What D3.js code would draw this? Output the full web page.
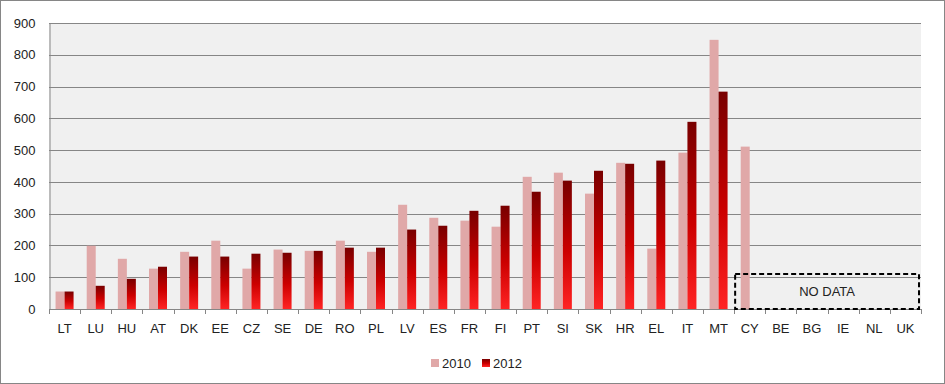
<!DOCTYPE html>
<html>
<head>
<meta charset="utf-8">
<script src="https://d3js.org/d3.v7.min.js"></script>
<style>
  body { margin: 0; background: white; }
  text { font-family: "Liberation Sans", Arial, sans-serif; fill: #222; }
</style>
</head>
<body>
<svg id="chart" width="945" height="384"></svg>
<script>
// data
let countries = ["LT","LU","HU","AT","DK","EE","CZ","SE","DE","RO","PL","LV","ES","FR","FI","PT","SI","SK","HR","EL","IT","MT","CY","BE","BG","IE","NL","UK"];
let values2010 = [55,199,158,127,180,215,127,187,183,215,180,328,287,278,259,416,429,363,460,190,492,847,511,null,null,null,null,null];
let values2012 = [55,73,95,133,165,165,174,177,183,193,193,250,262,309,325,369,404,435,457,467,589,684,null,null,null,null,null,null];
let yTicks = [0,100,200,300,400,500,600,700,800,900];
let noDataCountries = ["CY","BE","BG","IE","NL","UK"];
let seriesNames = ["2010","2012"];

let svg = d3.select("#chart");
let W = 945, H = 384;
let mLeft = 49, mRight = 921, mTop = 23, mBottom = 309;

// outer frame
svg.append("rect").attr("x",0.5).attr("y",0.5).attr("width",W-1).attr("height",H-1)
  .attr("fill","white").attr("stroke","#868686");

// gradient for 2012 bars
let defs = svg.append("defs");
let grad = defs.append("linearGradient").attr("id","darkred")
  .attr("x1",0).attr("y1",0).attr("x2",0).attr("y2",1);
grad.append("stop").attr("offset","0%").attr("stop-color","#780000");
grad.append("stop").attr("offset","55%").attr("stop-color","#cc0000");
grad.append("stop").attr("offset","100%").attr("stop-color","#ff2424");

let x = d3.scaleBand().domain(countries).range([mLeft, mRight]);
let y = d3.scaleLinear().domain([0,900]).range([mBottom, mTop]);

// plot area
svg.append("rect").attr("x",mLeft).attr("y",mTop).attr("width",mRight-mLeft).attr("height",mBottom-mTop)
  .attr("fill","#f0f0f0");

// gridlines
svg.append("g").selectAll("line").data(yTicks.filter(d => d > 0)).enter().append("line")
  .attr("x1",mLeft).attr("x2",mRight)
  .attr("y1",d => Math.round(y(d))+0.5).attr("y2",d => Math.round(y(d))+0.5)
  .attr("stroke","#868686").attr("stroke-width",1);

// y axis
let yAxis = svg.append("g").attr("transform",`translate(${mLeft+0.5},0)`)
  .call(d3.axisLeft(y).tickValues(yTicks).tickSize(0).tickPadding(14));
yAxis.select(".domain").attr("stroke","#868686");
yAxis.selectAll("text").style("font-size","13px").attr("fill","#222");

// bars
let bw = 9;
let g = svg.append("g");
g.selectAll(".b10").data(countries.filter((d,i) => values2010[i] != null)).enter().append("rect")
  .attr("x",d => x(d) + x.bandwidth()/2 - bw)
  .attr("y",d => y(values2010[countries.indexOf(d)]))
  .attr("width",bw)
  .attr("height",d => mBottom - y(values2010[countries.indexOf(d)]))
  .attr("fill","#e0a8a8");
g.selectAll(".b12").data(countries.filter((d,i) => values2012[i] != null)).enter().append("rect")
  .attr("x",d => x(d) + x.bandwidth()/2)
  .attr("y",d => y(values2012[countries.indexOf(d)]))
  .attr("width",bw)
  .attr("height",d => mBottom - y(values2012[countries.indexOf(d)]))
  .attr("fill","url(#darkred)");

// x axis
svg.append("line").attr("x1",mLeft).attr("x2",mRight)
  .attr("y1",mBottom+0.5).attr("y2",mBottom+0.5).attr("stroke","#868686");
let bounds = countries.map(d => x(d)).concat([mRight]);
svg.append("g").selectAll("line").data(bounds).enter().append("line")
  .attr("x1",d => Math.round(d)+0.5).attr("x2",d => Math.round(d)+0.5)
  .attr("y1",mBottom).attr("y2",mBottom+5).attr("stroke","#868686");
svg.append("g").selectAll("text").data(countries).enter().append("text")
  .attr("x",d => x(d) + x.bandwidth()/2).attr("y",333)
  .attr("text-anchor","middle").style("font-size","13px").text(d => d);

// NO DATA box
let nd0 = x(noDataCountries[0]) + 1, nd1 = mRight - 2;
svg.append("rect").attr("x",nd0).attr("y",y(110)).attr("width",nd1-nd0).attr("height",mBottom - y(110))
  .attr("fill","none").attr("stroke","#000").attr("stroke-width",2).attr("stroke-dasharray","5,3");
svg.append("text").attr("x",(nd0+nd1)/2).attr("y",296).attr("text-anchor","middle")
  .style("font-size","13px").text("NO DATA");

// legend
let legend = svg.append("g");
let lx = [431, 482];
seriesNames.forEach((s,i) => {
  legend.append("rect").attr("x",lx[i]).attr("y",359).attr("width",8).attr("height",8)
    .attr("fill", i === 0 ? "#e0a8a8" : "url(#darkred)");
  legend.append("text").attr("x",lx[i]+11).attr("y",367.5).style("font-size","13px").text(s);
});
</script>
</body>
</html>
